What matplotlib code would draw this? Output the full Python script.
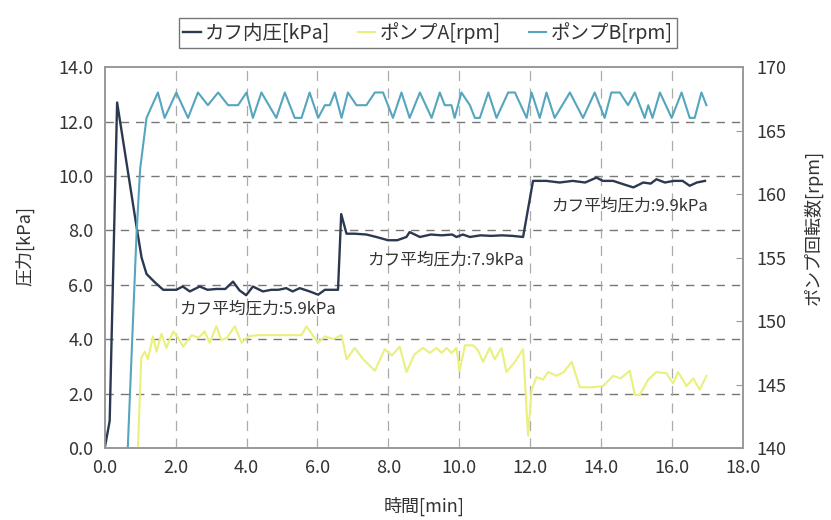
import numpy as np
import matplotlib
matplotlib.use("Agg")
from matplotlib import pyplot as plt

plt.rcParams['font.family'] = ['Noto Sans CJK JP', 'DejaVu Sans']

# cuff pressure [kPa]
t_cuff = [0.0, 0.14, 0.35, 0.89, 1.04, 1.18, 1.41, 1.65, 2.02, 2.20, 2.40, 2.68, 2.90,
          3.15, 3.40, 3.62, 3.80, 3.99, 4.18, 4.46, 4.70, 4.90, 5.12, 5.30, 5.50, 5.78,
          6.02, 6.21, 6.49, 6.58, 6.67, 6.82, 7.05, 7.38, 7.66, 7.99, 8.25, 8.51, 8.60,
          8.89, 9.20, 9.50, 9.80, 9.92, 10.10, 10.30, 10.60, 10.90, 11.20, 11.50, 11.80,
          12.08, 12.46, 12.83, 13.20, 13.55, 13.87, 14.05, 14.34, 14.62, 14.91, 15.19,
          15.40, 15.56, 15.80, 16.05, 16.30, 16.50, 16.70, 16.93]
p_cuff = [0.0, 1.0, 12.7, 8.2, 7.0, 6.4, 6.1, 5.82, 5.82, 5.94, 5.76, 5.94, 5.82,
          5.85, 5.85, 6.12, 5.80, 5.62, 5.94, 5.76, 5.82, 5.82, 5.88, 5.76, 5.88, 5.76,
          5.64, 5.82, 5.82, 5.82, 8.6, 7.88, 7.88, 7.85, 7.76, 7.64, 7.64, 7.76, 7.94,
          7.76, 7.85, 7.82, 7.85, 7.76, 7.85, 7.76, 7.82, 7.80, 7.82, 7.80, 7.76,
          9.82, 9.82, 9.76, 9.82, 9.76, 9.94, 9.82, 9.82, 9.70, 9.58, 9.76,
          9.72, 9.88, 9.76, 9.82, 9.82, 9.64, 9.76, 9.82]

# pump A [rpm]
t_pa = [0.94, 1.03, 1.13, 1.22, 1.36, 1.46, 1.60, 1.74, 1.93, 2.07, 2.21, 2.45, 2.65,
        2.82, 2.96, 3.15, 3.29, 3.45, 3.67, 3.86, 4.05, 4.30, 4.84, 5.55, 5.69, 6.02,
        6.21, 6.45, 6.68, 6.82, 7.05, 7.29, 7.62, 7.90, 8.10, 8.32, 8.51, 8.74, 8.98,
        9.17, 9.36, 9.50, 9.64, 9.78, 9.92, 10.01, 10.16, 10.39, 10.53, 10.67, 10.86,
        11.00, 11.19, 11.33, 11.57, 11.80, 11.94, 12.04, 12.18, 12.36, 12.51, 12.74,
        12.95, 13.17, 13.40, 13.77, 14.06, 14.34, 14.55, 14.81, 14.95, 15.09, 15.33,
        15.56, 15.84, 16.03, 16.17, 16.41, 16.60, 16.78, 16.97]
rpm_a = [140.2, 147.1, 147.6, 147.0, 148.8, 147.6, 149.0, 147.9, 149.2, 148.7, 148.0, 148.9, 148.7,
         149.2, 148.3, 149.6, 148.5, 148.7, 149.6, 148.3, 148.8, 148.9, 148.9, 148.9, 149.6, 148.3,
         148.8, 148.6, 148.9, 147.0, 147.9, 147.0, 146.1, 147.8, 147.3, 148.0, 146.0, 147.4, 147.9,
         147.5, 147.9, 147.5, 147.9, 147.5, 147.9, 146.1, 148.1, 148.1, 147.7, 146.8, 147.9,
         147.0, 147.9, 146.0, 146.8, 147.8, 141.0, 144.6, 145.6, 145.4, 146.0, 145.7,
         146.0, 146.8, 144.8, 144.8, 144.9, 145.7, 145.5, 146.1, 144.2, 144.2, 145.4,
         146.0, 145.9, 145.1, 146.0, 144.9, 145.5, 144.6, 145.7]

# pump B [rpm]
t_pb = [0.65, 0.90, 1.00, 1.18, 1.50, 1.69, 2.02, 2.35, 2.63, 2.91, 3.20, 3.48, 3.76,
        4.00, 4.18, 4.42, 4.84, 5.08, 5.36, 5.55, 5.78, 6.02, 6.21, 6.35, 6.49, 6.68,
        6.86, 7.10, 7.38, 7.62, 7.85, 8.13, 8.37, 8.60, 8.89, 9.22, 9.45, 9.59, 9.78,
        9.87, 10.06, 10.30, 10.44, 10.58, 10.82, 11.05, 11.38, 11.57, 11.90, 12.04,
        12.27, 12.46, 12.69, 13.12, 13.49, 13.82, 14.10, 14.29, 14.53, 14.76, 14.95,
        15.23, 15.33, 15.45, 15.66, 15.99, 16.27, 16.50, 16.64, 16.83, 16.97]
rpm_b = [140.0, 157.0, 162.0, 166.0, 168.0, 166.0, 168.0, 166.0, 168.0, 167.0, 168.0, 167.0, 167.0,
         168.0, 166.0, 168.0, 166.0, 168.0, 166.0, 166.0, 168.0, 166.0, 167.0, 167.0, 168.0, 166.0,
         168.0, 167.0, 167.0, 168.0, 168.0, 166.0, 168.0, 166.0, 168.0, 166.0, 168.0, 167.0, 167.0,
         166.0, 168.0, 167.0, 166.0, 166.0, 168.0, 166.0, 168.0, 168.0, 166.0, 168.0,
         166.0, 168.0, 166.0, 168.0, 166.0, 168.0, 166.0, 168.0, 168.0, 167.0, 168.0,
         166.0, 167.0, 166.0, 168.0, 166.0, 168.0, 166.0, 166.0, 168.0, 167.0]

# averages written on the plot
avg_text = ['カフ平均圧力:5.9kPa', 'カフ平均圧力:7.9kPa', 'カフ平均圧力:9.9kPa']
avg_pos = [(4.3, 5.1), (9.6, 6.9), (14.8, 8.9)]

c_cuff = '#2b3950'
c_pa = '#eaf07c'
c_pb = '#55a5bf'
txt = '#333333'

fig = plt.figure(figsize=(8.31, 5.2), dpi=100)
ax = fig.add_axes([0.126, 0.138, 0.768, 0.733])
ax2 = ax.twinx()

ax.plot(t_cuff, p_cuff, color=c_cuff, lw=1.7, label='カフ内圧[kPa]', zorder=4)
ax2.plot(t_pa, rpm_a, color=c_pa, lw=1.5, label='ポンプA[rpm]')
ax2.plot(t_pb, rpm_b, color=c_pb, lw=1.5, label='ポンプB[rpm]')

ax.set_xlim(0, 18)
ax.set_ylim(0, 14)
ax2.set_ylim(140, 170)
ax.set_xticks(np.arange(0, 18.1, 2))
ax.set_yticks(np.arange(0, 14.1, 2))
ax2.set_yticks(np.arange(140, 171, 5))
ax.set_xticklabels(['%.1f' % v for v in np.arange(0, 18.1, 2)])
ax.set_yticklabels(['%.1f' % v for v in np.arange(0, 14.1, 2)])

ax.tick_params(axis='both', length=0, labelsize=13, labelcolor=txt, pad=8)
ax2.tick_params(axis='y', direction='in', length=5, color='#999999',
                labelsize=13, labelcolor=txt, pad=10)

# dashed grid from the pressure axis only
for v in np.arange(2, 13, 2):
    ax.axhline(v, color='#777777', lw=1.0, ls=(0, (6, 5)), zorder=1)
for v in np.arange(2, 17, 2):
    ax.axvline(v, color='#aaaaaa', lw=0.9, ls=(0, (8, 6)), zorder=1)

for a in (ax, ax2):
    for s in a.spines.values():
        s.set_color('#999999')
        s.set_linewidth(1.2)

ax.set_xlabel('時間[min]', fontsize=13, color=txt, labelpad=14)
ax.set_ylabel('圧力[kPa]', fontsize=13, color=txt, labelpad=18)
ax.yaxis.set_label_coords(-0.11, 0.53)
ax2.set_ylabel('ポンプ回転数[rpm]', fontsize=13, color=txt, labelpad=10)
ax2.yaxis.set_label_coords(1.095, 0.58)

for s, (x, y) in zip(avg_text, avg_pos):
    ax.text(x, y, s, fontsize=12, color=txt, ha='center', va='center', zorder=5)

h1, l1 = ax.get_legend_handles_labels()
h2, l2 = ax2.get_legend_handles_labels()
leg = fig.legend(h1 + h2, l1 + l2, loc='center', bbox_to_anchor=(0.515, 0.937),
                 ncol=3, fontsize=14, frameon=True, fancybox=False, handlelength=0.9,
                 handletextpad=0.25, columnspacing=1.4, borderpad=0.2)
leg.get_frame().set_edgecolor('#555555')
leg.get_frame().set_linewidth(1.0)
for t in leg.get_texts():
    t.set_color(txt)

fig.savefig('out.png', dpi=100)
